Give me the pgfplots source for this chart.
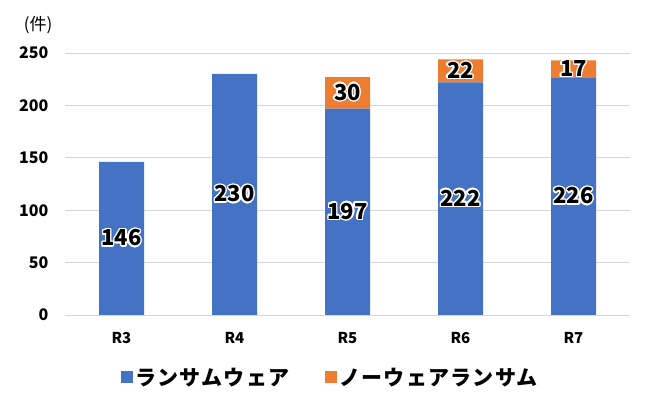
\documentclass[border=0pt]{standalone}
\usepackage{pgfplots}
\pgfplotsset{compat=1.18}
\usepackage{fontspec}
\setmainfont{Noto Sans CJK JP}
\usepackage{contour}
\contourlength{1.3pt}
\definecolor{cblue}{HTML}{4472C4}
\definecolor{corange}{HTML}{ED7D31}
\begin{document}
\begin{tikzpicture}[x=1pt,y=1pt]
\useasboundingbox (0,0) rectangle (651,407);
\begin{axis}[
  at={(65pt,92pt)}, anchor=south west,
  scale only axis, width=565pt, height=262pt,
  ybar stacked, bar width=45pt,
  xmin=-0.5, xmax=4.5, ymin=0, ymax=250,
  xtick={0,...,4}, xticklabels={R3,R4,R5,R6,R7},
  ytick={0,50,...,250},
  ymajorgrids, grid style={draw=black!16, line width=0.8pt},
  axis line style={draw=none},
  major tick length=0pt,
  /pgf/number format/assume math mode=true,
  yticklabel style={font=\bfseries\fontsize{16}{16}\selectfont, anchor=east, xshift=-13pt},
  xticklabel style={font=\bfseries\fontsize{15}{15}\selectfont, yshift=-14pt},
  point meta=explicit,
  nodes near coords={\pgfmathfloatifflags{\pgfplotspointmeta}{0}{}{\contour{white}{\pgfmathprintnumber{\pgfplotspointmeta}}}},
  every node near coord/.append style={font=\bfseries\fontsize{22}{22}\selectfont, anchor=center, text=black},
  legend style={at={(0.47,-0.237)}, anchor=center, draw=none, legend columns=2,
    font=\bfseries\fontsize{21}{21}\selectfont\addfontfeatures{LetterSpace=6},
    /tikz/every even column/.append style={column sep=34pt}},
  legend image code/.code={\fill[#1] (0pt,-6pt) rectangle (12pt,6pt);},
]
\addplot[fill=cblue, draw=none] coordinates {(0,146) [146] (1,230) [230] (2,197) [197] (3,222) [222] (4,226) [226]};
\addlegendentry{ランサムウェア}
\addplot[fill=corange, draw=none] coordinates {(0,0) [0] (1,0) [0] (2,30) [30] (3,22) [22] (4,17) [17]};
\addlegendentry{ノーウェアランサム}
\end{axis}
\node[font=\fontsize{17}{17}\selectfont] at (38,382) {(件)};
\end{tikzpicture}
\end{document}
